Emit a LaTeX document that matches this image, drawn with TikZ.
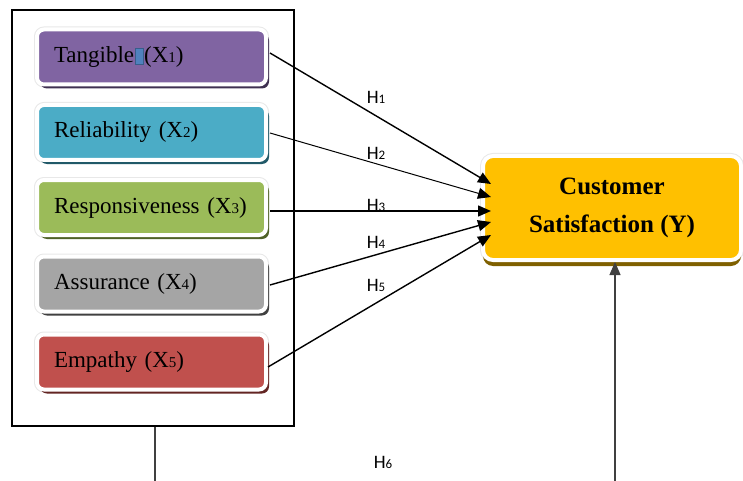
\documentclass[tikz,border=0pt]{standalone}
\usepackage{fontspec}
\setmainfont{Liberation Serif}
\newfontfamily\hfont{Carlito}
\usetikzlibrary{shadows,arrows.meta,calc}
\definecolor{cTan}{HTML}{8064A2}\definecolor{sTan}{HTML}{3F3151}
\definecolor{cRel}{HTML}{4BACC6}\definecolor{sRel}{HTML}{215968}
\definecolor{cRes}{HTML}{9BBB59}\definecolor{sRes}{HTML}{4F6228}
\definecolor{cAss}{HTML}{A5A5A5}\definecolor{sAss}{HTML}{404040}
\definecolor{cEmp}{HTML}{C0504D}\definecolor{sEmp}{HTML}{632523}
\definecolor{cCus}{HTML}{FFC000}\definecolor{sCus}{HTML}{7F6000}
\definecolor{glyphfill}{HTML}{4F81BD}\definecolor{glyphdraw}{HTML}{385D8A}
\newcommand{\smd}[1]{{\fontsize{15}{17}\selectfont #1}}
\newcommand{\hsm}[1]{{\fontsize{13}{15}\selectfont #1}}
\tikzset{
  dimbox/.style 2 args={draw=white, line width=4pt, fill=#1, rounded corners=7pt,
    preaction={draw=gray!18, line width=6pt},
    general shadow={fill=#2, shadow xshift=3pt, shadow yshift=-4pt},
    minimum width=229pt, minimum height=55pt, text width=195pt, align=left,
    inner xsep=17pt, font=\fontsize{23}{26}\selectfont},
  hyp/.style={-{Triangle[length=13pt,width=11pt]}, line width=1.4pt, black},
  hlab/.style={font=\hfont\fontsize{19}{21}\selectfont, inner sep=0pt}
}
\begin{document}
\begin{tikzpicture}[x=1pt,y=-1pt]
\useasboundingbox (0,0) rectangle (743,481);
\node[draw, line width=1.5pt, minimum width=282pt, minimum height=416pt, inner sep=0pt] (frame) at (153,218) {};
\node[dimbox={cTan}{sTan}] (x1) at (151.5,57) {Tangible\hspace{1pt}\raisebox{-2pt}{\fboxsep=0pt\fboxrule=1pt\fcolorbox{glyphdraw}{glyphfill}{\rule{0pt}{15pt}\rule{7pt}{0pt}}}(X\smd{1})};
\node[dimbox={cRel}{sRel}] (x2) at (151.5,132.5) {Reliability (X\smd{2})};
\node[dimbox={cRes}{sRes}] (x3) at (151.5,207.5) {Responsiveness (X\smd{3})};
\node[dimbox={cAss}{sAss}] (x4) at (151.5,284) {Assurance (X\smd{4})};
\node[dimbox={cEmp}{sEmp}] (x5) at (151.5,362) {Empathy (X\smd{5})};
\node[draw=white, line width=4pt, fill=cCus, rounded corners=10pt,
  preaction={draw=gray!18, line width=6pt},
  general shadow={fill=sCus, shadow xshift=0pt, shadow yshift=-6pt},
  minimum width=258pt, minimum height=104pt, align=center,
  font=\bfseries\fontsize{25}{38}\selectfont] (y) at (612,208) {Customer\\Satisfaction (Y)};
\coordinate (t1) at (491,184);
\coordinate (t2) at (491,197);
\coordinate (t3) at (491,211);
\coordinate (t4) at (491,222);
\coordinate (t5) at (491,235);
\coordinate (s1) at (270,53);
\coordinate (s2) at (270,133);
\coordinate (s3) at (270,211);
\coordinate (s4) at (270,285);
\coordinate (s5) at (268,367);
\draw[hyp] (s1) -- (t1);
\draw[hyp, line width=1pt] (s2) -- (t2);
\draw[hyp] (s3) -- (t3);
\draw[hyp] (s4) -- (t4);
\draw[hyp] (s5) -- (t5);
\node[hlab] (h1) at (376,97) {H\hsm{1}};
\node[hlab] (h2) at (376,153) {H\hsm{2}};
\node[hlab] (h3) at (376,205) {H\hsm{3}};
\node[hlab] (h4) at (376,242) {H\hsm{4}};
\node[hlab] (h5) at (376,285) {H\hsm{5}};
\node[hlab] (h6) at (383,462) {H\hsm{6}};
\coordinate (b1) at (155,481);
\coordinate (b2) at (615,481);
\coordinate (ytip) at (615,262);
\draw[line width=1.2pt, black!75] (frame.south -| b1) -- (b1);
\draw[hyp, line width=1.2pt, black!75] (b2) -- (ytip);
\end{tikzpicture}
\end{document}
